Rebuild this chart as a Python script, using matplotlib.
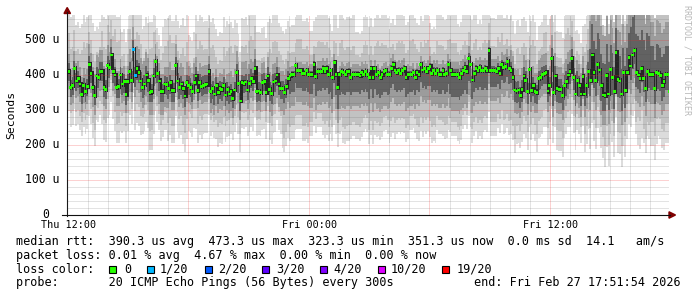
import numpy as np
import matplotlib
matplotlib.use("Agg")
import matplotlib.pyplot as plt
from matplotlib.patches import Rectangle, Polygon
from matplotlib.lines import Line2D

# ---------------- data ----------------
# median RTT per sample, microseconds, Thu 12:00 -> Fri ~18:00
median_us = [
    411, 365, 371, 419, 383, 390, 374, 345, 370, 352,
    367, 429, 404, 364, 342, 397, 392, 410, 411, 365,
    359, 427, 422, 457, 410, 400, 365, 367, 400, 374,
    381, 345, 381, 410, 384, 473, 398, 418, 408, 383,
    365, 374, 400, 384, 350, 352, 397, 438, 405, 383,
    352, 352, 374, 372, 362, 378, 355, 355, 428, 383,
    364, 374, 362, 340, 378, 370, 364, 352, 378, 397,
    355, 378, 367, 371, 373, 374, 410, 352, 362, 346,
    371, 350, 362, 359,
    371, 343, 359, 346, 352, 333, 357, 408, 376, 326,
    378, 376, 380, 357, 376, 390, 381, 419, 352, 354,
    350, 378, 381, 351, 397, 359, 348, 380, 383, 400,
    374, 362, 362, 351, 367, 389, 397, 402, 402, 427,
    412, 412, 412, 405, 405, 412, 402, 402, 402, 429,
    395, 410, 411, 410, 419, 411, 419, 402, 412, 392,
    436, 402, 364, 402, 411, 407, 402, 410, 411, 392,
    402, 402, 402, 402, 397, 407, 402, 411, 402, 392,
    419,
    393, 419, 402, 407, 393, 402, 410, 412, 402, 402,
    419, 429, 412, 407, 412, 405, 412, 419, 393, 402,
    402, 402, 408, 393, 408, 402, 429, 414, 419, 410,
    419, 424, 405, 412, 405, 412, 402, 402, 412, 402,
    405, 429, 412, 402, 402, 402, 402, 393, 405, 412,
    422, 410, 448, 431, 386, 405, 419, 412, 421, 412,
    412, 419, 412, 469, 412, 412, 412, 410, 419, 405,
    430, 422, 424, 438, 419, 412, 393, 357, 354,
    357, 341, 359, 397, 384, 352, 416, 355, 371, 352,
    350, 389, 393, 401, 405, 407, 354, 371, 448, 350,
    397, 362, 359, 359, 341, 369, 381, 400, 410, 448,
    393, 346, 384, 371, 346, 395, 346, 369, 410, 384,
    457, 407, 384, 429, 414, 371, 343, 341, 398, 346,
    416, 393, 352, 464, 388, 383, 346, 407, 355, 407,
    450, 426, 457, 471, 407, 400, 389, 419, 390, 362,
    411, 402, 402, 402, 362, 408, 405, 398, 371, 381,
    402, 402, 352,
]
loss_sample_index = [35, 36]
loss_sample_count = [1, 1]

# smoke spread per 20 minutes (us above / below the median), 90 blocks
smoke_up1 = [200, 160, 200, 185, 140, 200, 175, 200, 150, 200, 190, 165, 200, 130, 185, 200,
             170, 200, 145, 200, 180, 200, 160, 195, 200, 140, 185, 200, 170, 155, 200, 175,
             165, 140, 170, 150, 125, 170, 160, 135, 170, 155, 170, 120, 165, 145, 170, 160,
             130, 170, 150, 170, 140, 165, 125, 170, 155, 170, 145, 160, 170, 135, 165, 150,
             170, 140, 160,
             200, 170, 200, 150, 190, 200, 165, 200, 180, 145, 200,
             200, 200, 200, 200, 200, 200, 200, 200, 200, 200, 200, 200]
smoke_dn1 = [115, 130, 120, 145, 125, 150, 135, 160, 140, 125, 155, 135, 165, 140, 130, 150,
             145, 160, 130, 150, 140, 125, 155, 135, 120, 145, 130, 140, 125, 135, 145, 130,
             170, 185, 165, 195, 175, 160, 190, 180, 170, 200, 175, 185, 165, 190, 180, 170,
             195, 175, 185, 160, 190, 180, 200, 170, 185, 175, 190, 165, 180, 195, 175, 185,
             170, 190, 180,
             150, 165, 140, 170, 155, 145, 175, 150, 160, 140, 165,
             195, 180, 205, 185, 210, 190, 175, 200, 185, 205, 180, 195]
smoke_up2 = [110, 85, 125, 95, 70, 115, 100, 130, 80, 120, 105, 75, 125, 90, 110, 135,
             85, 115, 70, 120, 100, 125, 80, 110, 130, 75, 105, 120, 90, 70, 115, 95,
             80, 65, 90, 70, 55, 85, 75, 60, 90, 70, 80, 55, 85, 65, 90, 75,
             60, 85, 70, 95, 65, 80, 55, 85, 70, 90, 65, 75, 85, 60, 80, 70,
             90, 65, 75,
             120, 95, 130, 80, 115, 125, 90, 135, 105, 85, 120,
             200, 200, 170, 200, 200, 185, 200, 200, 160, 200, 200, 190]
smoke_dn2 = [75, 90, 80, 100, 85, 95, 70, 105, 90, 80, 100, 85, 110, 95, 80, 100,
             90, 105, 75, 95, 85, 80, 100, 90, 75, 95, 85, 90, 80, 85, 95, 80,
             130, 145, 125, 150, 135, 120, 150, 140, 130, 155, 135, 145, 125, 150, 140, 130,
             150, 135, 145, 120, 150, 140, 155, 130, 145, 135, 150, 125, 140, 150, 135, 145,
             130, 150, 140,
             100, 115, 95, 120, 105, 95, 120, 105, 110, 95, 115,
             135, 120, 145, 125, 150, 130, 140, 120, 145, 135, 125, 140]
# inner smoke levels per hour, 30 blocks
smoke_up3 = [50, 60, 45, 65, 50, 60, 55, 45, 60, 55, 50,
             25, 30, 25, 30, 25, 30, 25, 30, 35, 30, 35,
             60, 55, 65, 60, 170, 140, 185, 150]
smoke_dn3 = [50, 55, 55, 60, 65, 55, 50, 60, 55, 55, 65,
             90, 95, 100, 90, 100, 95, 90, 95, 105, 95, 85,
             65, 60, 70, 65, 85, 90, 80, 85]
smoke_up4 = [22, 26, 22, 26, 22, 22, 26, 22, 22, 26, 22,
             8, 10, 8, 10, 8, 10, 8, 10, 14, 10, 14,
             26, 22, 30, 26, 90, 70, 110, 80]
smoke_dn4 = [28, 28, 32, 32, 28, 32, 28, 32, 28, 28, 32,
             50, 55, 60, 50, 60, 55, 50, 55, 65, 55, 45,
             35, 32, 40, 35, 45, 50, 40, 45]

y_tick_values = [0, 100, 200, 300, 400, 500]
y_tick_labels = ["0", "100 u", "200 u", "300 u", "400 u", "500 u"]
x_tick_hours = [0, 12, 24]
x_tick_labels = ["Thu 12:00", "Fri 00:00", "Fri 12:00"]

legend_rtt = "median rtt:  390.3 us avg  473.3 us max  323.3 us min  351.3 us now  0.0 ms sd  14.1   am/s"
legend_loss = "packet loss: 0.01 % avg  4.67 % max  0.00 % min  0.00 % now"
legend_color_title = "loss color:"
loss_labels = ["0", "1/20", "2/20", "3/20", "4/20", "10/20", "19/20"]
loss_levels = [0, 1, 2, 3, 4, 10, 19]
loss_colors = ["#26ff00", "#00b8ff", "#0059ff", "#5e00ff", "#7e00ff", "#dd00ff", "#ff0000"]
legend_probe = "probe:       20 ICMP Echo Pings (56 Bytes) every 300s"
legend_end = "end: Fri Feb 27 17:51:54 2026"
watermark = "RRDTOOL / TOBI OETIKER"
y_title = "Seconds"

# ---------------- figure ----------------
W, H = 697, 297
fig = plt.figure(figsize=(W / 100, H / 100), dpi=100)
fig.patch.set_facecolor("white")

def fx(x):
    return x / W

def fy(y):
    return 1 - y / H

ax = fig.add_axes([fx(67), fy(215), 602 / W, 200 / H])
XMIN, XMAX = -0.05, 29.93
YMAX = 571.4
ax.set_xlim(XMIN, XMAX)
ax.set_ylim(0, YMAX)
ax.axis("off")

med = np.array(median_us, dtype=float)
N = len(med)
step = 30.0 / N
t = (np.arange(N) + 0.5) * step
blk_hour = np.clip(t.astype(int), 0, 29)
blk_20 = np.clip((t * 3).astype(int), 0, 89)

levels = [
    (smoke_up1, smoke_dn1, blk_20, "#dcdcdc"),
    (smoke_up2, smoke_dn2, blk_20, "#c2c2c2"),
    (smoke_up3, smoke_dn3, blk_hour, "#9c9c9c"),
    (smoke_up4, smoke_dn4, blk_hour, "#626262"),
]
for up, dn, blk, col in levels:
    up = np.array(up, float)[blk]
    dn = np.array(dn, float)[blk]
    lo = med - dn
    hi = med + up
    ax.bar(t, hi - lo, bottom=lo, width=step * 1.05, color=col,
           linewidth=0, zorder=2, antialiased=False)

# darkest core: connects consecutive medians
prev = np.concatenate([[med[0]], med[:-1]])
clo = np.minimum(prev, med) - 7
chi = np.maximum(prev, med) + 7
ax.bar(t, chi - clo, bottom=clo, width=step * 0.75, color="#262626",
       linewidth=0, zorder=3, antialiased=False)

# grid (on top, semi transparent, dotted)
dot = (0, (1, 1))
minor_c = (0.3, 0.3, 0.3, 0.3)
major_c = (0.95, 0.15, 0.15, 0.42)
for v in range(20, 571, 20):
    ax.axhline(v, color=major_c if v % 100 == 0 else minor_c, lw=0.72, ls=dot,
               zorder=5, snap=True)
for h in range(1, 30):
    ax.axvline(h, color=major_c if h % 6 == 0 else minor_c, lw=0.72, ls=dot,
               zorder=5, snap=True)

# median markers coloured by loss
cols = [loss_colors[0]] * N
for idx, cnt in zip(loss_sample_index, loss_sample_count):
    j = max(k for k, lv in enumerate(loss_levels) if lv <= cnt)
    cols[idx] = loss_colors[j]
ax.scatter(t, med, marker="s", s=4.0, c=cols, linewidths=0, zorder=6)

# axes lines and arrows
fig.add_artist(Line2D([fx(67), fx(67)], [fy(216), fy(12)], color="#1a1a1a", lw=0.8))
fig.add_artist(Line2D([fx(62), fx(670)], [fy(215), fy(215)], color="#111111", lw=0.8))
fig.add_artist(Polygon([(fx(64), fy(13.5)), (fx(70.5), fy(13.5)), (fx(67.2), fy(7.5))],
                       closed=True, color="#7f0000", transform=fig.transFigure))
fig.add_artist(Polygon([(fx(669), fy(211.8)), (fx(669), fy(218.2)), (fx(675.5), fy(215))],
                       closed=True, color="#7f0000", transform=fig.transFigure))

mono = "DejaVu Sans Mono"
# y tick labels
for v, lab in zip(y_tick_values, y_tick_labels):
    ypx = 215 - v / YMAX * 200
    xr = 59.5 if lab != "0" else 49
    fig.text(fx(xr), fy(ypx), lab, ha="right", va="center", family=mono, size=8.3)
# x tick labels
for h, lab in zip(x_tick_hours, x_tick_labels):
    xpx = 67 + (h - XMIN) / (XMAX - XMIN) * 602
    fig.text(fx(xpx + 0.5), fy(228.3), lab, ha="center", va="baseline", family=mono, size=7.3)

fig.text(fx(11), fy(114.5), y_title, rotation=90, ha="center", va="center",
         family=mono, size=8.2)
fig.text(fx(686.5), fy(5), watermark, rotation=270, ha="center", va="top",
         family=mono, size=6.0, color="#b8b8b8")

# legend
fig.text(fx(16), fy(245.3), legend_rtt, ha="left", va="baseline", family=mono, size=8.5)
fig.text(fx(16), fy(259.0), legend_loss, ha="left", va="baseline", family=mono, size=8.5)
fig.text(fx(16), fy(272.7), legend_color_title, ha="left", va="baseline", family=mono, size=8.5)
sq_x = [108.5, 146.5, 204.5, 262.0, 319.5, 377.5, 442.0]
lab_x = [124, 160, 218, 276, 333.5, 391, 456.5]
for sx, lx, lab, col in zip(sq_x, lab_x, loss_labels, loss_colors):
    fig.add_artist(Rectangle((fx(sx), fy(273)), 7 / W, 7.5 / H, facecolor=col,
                             edgecolor="black", lw=0.8, transform=fig.transFigure))
    fig.text(fx(lx), fy(272.7), lab, ha="left", va="baseline", family=mono, size=8.5)
fig.text(fx(16), fy(286.4), legend_probe, ha="left", va="baseline", family=mono, size=8.5)
fig.text(fx(680.5), fy(286.4), legend_end, ha="right", va="baseline", family=mono, size=8.5)

fig.savefig("out.png", dpi=100, facecolor="white")
